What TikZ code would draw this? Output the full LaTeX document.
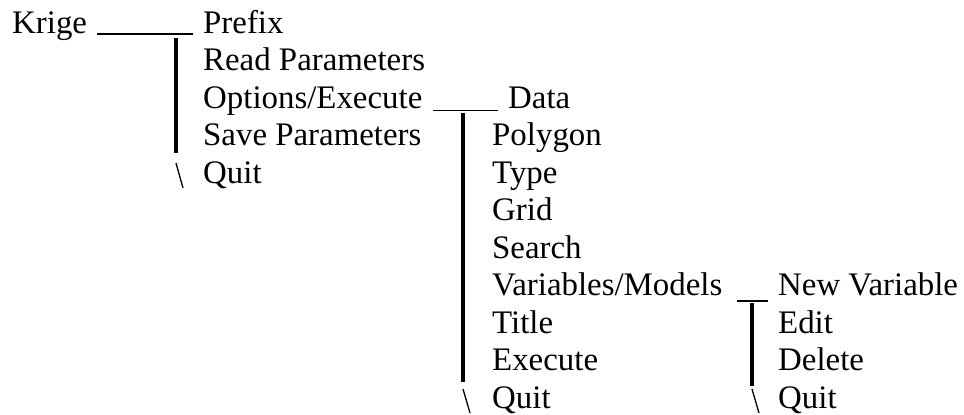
\documentclass[tikz,border=0pt]{standalone}
\usepackage{fontspec}
\setmainfont{Liberation Serif}
\begin{document}
\begin{tikzpicture}[x=1bp,y=-1bp,
  lbl/.style={anchor=base west, inner sep=0pt, font=\fontsize{33}{36}\selectfont},
  uline/.style={line width=1.5bp},
  bar/.style={line width=3.5bp},
  slash/.style={line width=1.3bp}]
\useasboundingbox (0,0) rectangle (964,414);
% level 0
\node[lbl] (krige) at (12,33) {Krige};
% level 1
\node[lbl] (prefix) at (203,33) {Prefix};
\node[lbl] (read) at (203,70.5) {Read Parameters};
\node[lbl] (options) at (203,108) {Options/Execute};
\node[lbl] (save) at (203,145.5) {Save Parameters};
\node[lbl] (quit1) at (203,183) {Quit};
% level 2
\node[lbl] (data) at (508,108) {Data};
\node[lbl] (polygon) at (492,145.5) {Polygon};
\node[lbl] (type) at (492,183) {Type};
\node[lbl] (grid) at (492,220.5) {Grid};
\node[lbl] (search) at (492,258) {Search};
\node[lbl] (varmod) at (492,295.5) {Variables/Models};
\node[lbl] (title) at (492,333) {Title};
\node[lbl] (execute) at (492,370.5) {Execute};
\node[lbl] (quit2) at (492,408) {Quit};
% level 3
\node[lbl] (newvar) at (778,295.5) {New Variable};
\node[lbl] (edit) at (778,333) {Edit};
\node[lbl] (delete) at (778,370.5) {Delete};
\node[lbl] (quit3) at (778,408) {Quit};
% connectors level 1
\coordinate (u1a) at (97,34); \coordinate (u1b) at (193,34);
\coordinate (t1) at (176,38); \coordinate (b1) at (176,153);
\coordinate (s1a) at (176,163); \coordinate (s1b) at (183,188);
\draw[uline] (u1a) -- (u1b);
\draw[bar] (t1) -- (b1);
\draw[slash] (s1a) -- (s1b);
% connectors level 2
\coordinate (u2a) at (433,110.5); \coordinate (u2b) at (498,110.5);
\coordinate (t2) at (463,113); \coordinate (b2) at (463,382);
\coordinate (s2a) at (463,389); \coordinate (s2b) at (470,413);
\draw[uline] (u2a) -- (u2b);
\draw[bar] (t2) -- (b2);
\draw[slash] (s2a) -- (s2b);
% connectors level 3
\coordinate (u3a) at (737,301); \coordinate (u3b) at (768,301);
\coordinate (t3) at (752,303); \coordinate (b3) at (752,386);
\coordinate (s3a) at (752,389); \coordinate (s3b) at (759,413);
\draw[uline] (u3a) -- (u3b);
\draw[bar] (t3) -- (b3);
\draw[slash] (s3a) -- (s3b);
\end{tikzpicture}
\end{document}
